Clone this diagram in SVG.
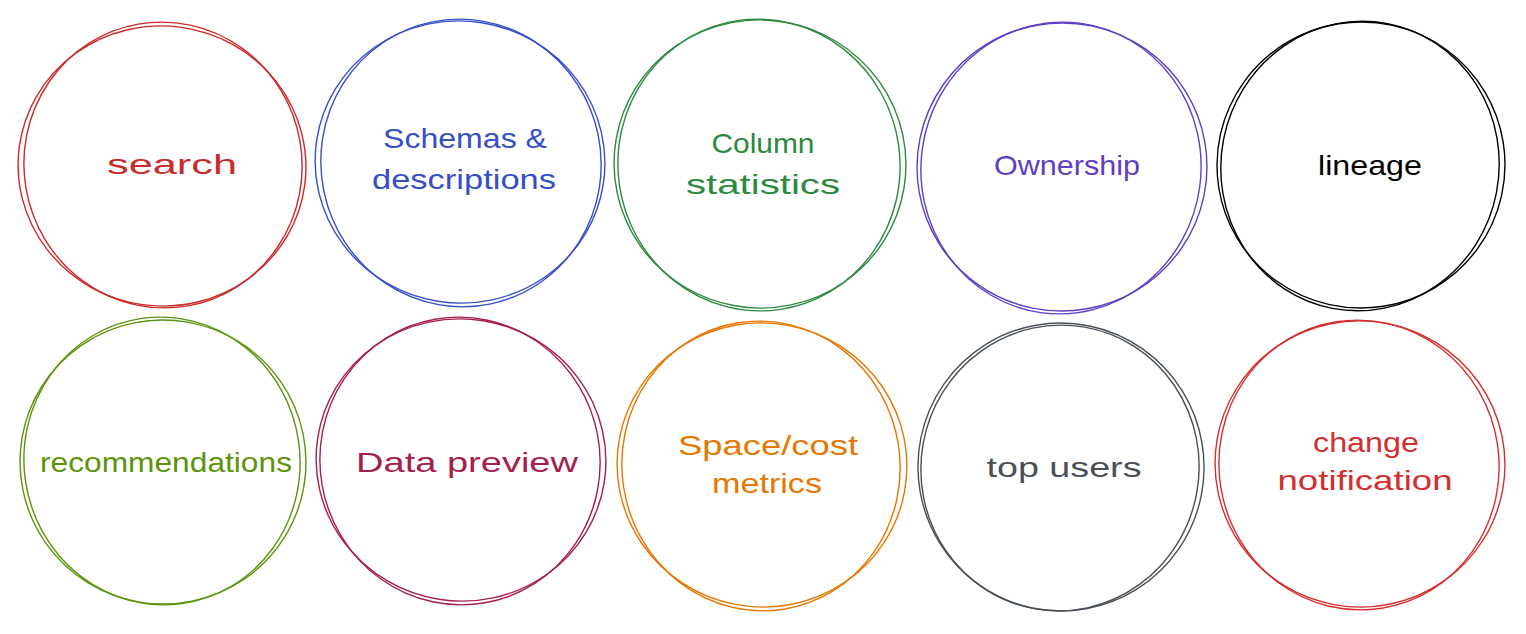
<svg xmlns="http://www.w3.org/2000/svg" width="1526" height="634" viewBox="0 0 1526 634">
<style>
.c{fill:none;stroke-width:1.4;stroke-linecap:round}
.t{font-family:"Liberation Sans",Arial,sans-serif;font-size:28px;text-anchor:middle}
</style>
<rect width="1526" height="634" fill="#ffffff"/>
<g id="node-search" stroke="#c92a2a" fill="#c92a2a">
<ellipse class="c" cx="162" cy="166" rx="144" ry="140" transform="rotate(8 162 166)"/>
<ellipse class="c" cx="163" cy="165" rx="139" ry="143" transform="rotate(-10 163 165)"/>
<text class="t" x="172" y="174" stroke="none" textLength="130" lengthAdjust="spacingAndGlyphs">search</text>
</g>
<g id="node-schemas" stroke="#364fc7" fill="#364fc7">
<ellipse class="c" cx="460" cy="162" rx="145" ry="141" transform="rotate(9 460 162)"/>
<ellipse class="c" cx="461" cy="163" rx="140" ry="144" transform="rotate(-12 461 163)"/>
<text class="t" x="465" y="148" stroke="none" textLength="164" lengthAdjust="spacingAndGlyphs">Schemas &amp;</text>
<text class="t" x="464" y="189" stroke="none" textLength="184" lengthAdjust="spacingAndGlyphs">descriptions</text>
</g>
<g id="node-column" stroke="#2b8a3e" fill="#2b8a3e">
<ellipse class="c" cx="760" cy="164" rx="146" ry="144" transform="rotate(10 760 164)"/>
<ellipse class="c" cx="759" cy="165" rx="141" ry="146" transform="rotate(-8 759 165)"/>
<text class="t" x="763" y="153" stroke="none" textLength="103" lengthAdjust="spacingAndGlyphs">Column</text>
<text class="t" x="763" y="194" stroke="none" textLength="154" lengthAdjust="spacingAndGlyphs">statistics</text>
</g>
<g id="node-ownership" stroke="#5f3dc4" fill="#5f3dc4">
<ellipse class="c" cx="1062" cy="167" rx="145" ry="144" transform="rotate(-10 1062 167)"/>
<ellipse class="c" cx="1061" cy="168" rx="140" ry="146" transform="rotate(8 1061 168)"/>
<text class="t" x="1067" y="175" stroke="none" textLength="146" lengthAdjust="spacingAndGlyphs">Ownership</text>
</g>
<g id="node-lineage" stroke="#000000" fill="#000000">
<ellipse class="c" cx="1361" cy="165" rx="144" ry="143" transform="rotate(-9 1361 165)"/>
<ellipse class="c" cx="1360" cy="166" rx="139" ry="145" transform="rotate(11 1360 166)"/>
<text class="t" x="1370" y="175" stroke="none" textLength="104" lengthAdjust="spacingAndGlyphs">lineage</text>
</g>
<g id="node-recommendations" stroke="#5c940d" fill="#5c940d">
<ellipse class="c" cx="163" cy="462" rx="143" ry="142" transform="rotate(10 163 462)"/>
<ellipse class="c" cx="162" cy="461" rx="138" ry="144" transform="rotate(-8 162 461)"/>
<text class="t" x="166" y="472" stroke="none" textLength="252" lengthAdjust="spacingAndGlyphs">recommendations</text>
</g>
<g id="node-datapreview" stroke="#a61e4d" fill="#a61e4d">
<ellipse class="c" cx="461" cy="460" rx="145" ry="141" transform="rotate(9 461 460)"/>
<ellipse class="c" cx="460" cy="461" rx="140" ry="144" transform="rotate(-10 460 461)"/>
<text class="t" x="467" y="472" stroke="none" textLength="222" lengthAdjust="spacingAndGlyphs">Data preview</text>
</g>
<g id="node-spacecost" stroke="#e67700" fill="#e67700">
<ellipse class="c" cx="762" cy="465" rx="145" ry="142" transform="rotate(11 762 465)"/>
<ellipse class="c" cx="761" cy="466" rx="139" ry="145" transform="rotate(-9 761 466)"/>
<text class="t" x="768" y="455" stroke="none" textLength="180" lengthAdjust="spacingAndGlyphs">Space/cost</text>
<text class="t" x="767" y="493" stroke="none" textLength="110" lengthAdjust="spacingAndGlyphs">metrics</text>
</g>
<g id="node-topusers" stroke="#495057" fill="#495057">
<ellipse class="c" cx="1061" cy="467" rx="143" ry="144" transform="rotate(-10 1061 467)"/>
<ellipse class="c" cx="1060" cy="468" rx="139" ry="143" transform="rotate(10 1060 468)"/>
<text class="t" x="1064" y="477" stroke="none" textLength="155" lengthAdjust="spacingAndGlyphs">top users</text>
</g>
<g id="node-change" stroke="#d32f2f" fill="#d32f2f">
<ellipse class="c" cx="1360" cy="464" rx="145" ry="143" transform="rotate(10 1360 464)"/>
<ellipse class="c" cx="1359" cy="465" rx="140" ry="145" transform="rotate(-9 1359 465)"/>
<text class="t" x="1366" y="452" stroke="none" textLength="106" lengthAdjust="spacingAndGlyphs">change</text>
<text class="t" x="1365" y="490" stroke="none" textLength="175" lengthAdjust="spacingAndGlyphs">notification</text>
</g>
<g id="connectors"></g>
</svg>
